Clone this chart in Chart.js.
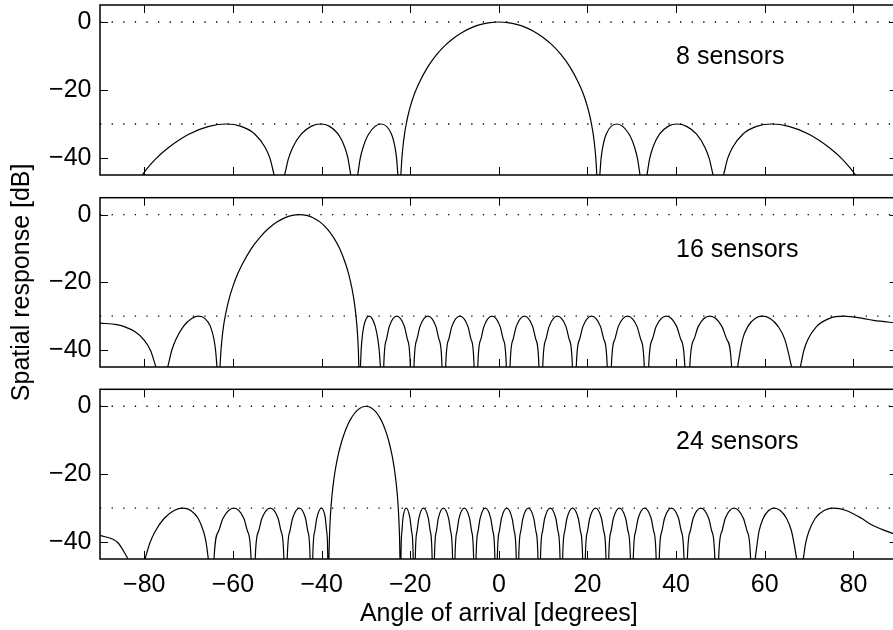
<!DOCTYPE html>
<html>
<head>
<meta charset="utf-8">
<script src="https://cdn.jsdelivr.net/npm/chart.js@4.4.1/dist/chart.umd.min.js"></script>
<style>
html,body{margin:0;padding:0;background:#fff;overflow:hidden;width:893px;height:630px;}
canvas{position:absolute;left:0;}
</style>
</head>
<body>
<canvas id="c8" style="top:0px"></canvas>
<canvas id="c16" style="top:60px"></canvas>
<canvas id="c24" style="top:380px"></canvas>
<script>
// ---------- data ----------
const xTicks = [-80, -60, -40, -20, 0, 20, 40, 60, 80];
const yTicks = [0, -20, -40];
const refLevels = [0, -30];
const xTitle = 'Angle of arrival [degrees]';
const yTitle = 'Spatial response [dB]';
const panelLabels = ['8 sensors', '16 sensors', '24 sensors'];
const labelPos = [40, -10];
// -100 marks a deep null (below the visible range)

const angles8 = [
-90, -83.70, -80.47, -77.37, -74.52, -69.97, -65.42, -61.56, -58.14, -55.04, -52.73, -51.62, -50.70, -50.02,
-49.50, -48.99, -48.34, -47.48, -46.51, -44.62, -42.37, -40.23, -38.19, -36.24, -34.75, -34.03, -33.42, -32.98,
-32.63, -32.29, -31.86, -31.29, -30.64, -29.40, -26.57, -24.22, -23.43, -23.07, -22.78, -22.58,
-22.43, -22.28, -22.11, -21.89, -21.66, -21.29, -20.90, -20.50, -20, -19, -18, -16, -14, -12, -10, -8, -6, -4, -2,
0,
2, 4, 6, 8, 10, 12, 14, 16, 18, 19, 20, 20.50, 20.90, 21.29, 21.66, 21.89, 22.11, 22.28, 22.43,
22.58, 22.78, 23.07, 23.43, 24.22, 26.57, 29.40, 30.64, 31.29, 31.86, 32.29, 32.63,
32.98, 33.42, 34.03, 34.75, 36.24, 38.19, 40.23, 42.37, 44.62, 46.51, 47.48, 48.34, 48.99, 49.50,
50.02, 50.70, 51.62, 52.73, 55.04, 58.14, 61.56, 65.42, 69.97, 74.52, 77.37, 80.47, 83.70, 90];
const resp8 = [
-100, -52.1, -45, -40.2, -36.9, -33, -30.7, -30, -30.7, -33, -36.9, -40.2, -45, -52.1,
-100, -52.1, -45, -40.2, -36.9, -33, -30.7, -30, -30.7, -33, -36.9, -40.2, -45, -52.1,
-100, -52.1, -45, -40.2, -36.9, -33, -30, -33, -36.9, -40.2, -45, -52.1,
-100, -52.1, -45, -40.2, -36.9, -33, -30, -27.5, -24.95, -20.98, -17.92, -13.11, -9.52, -6.73, -4.54, -2.85, -1.58, -0.69, -0.17,
0,
-0.17, -0.69, -1.58, -2.85, -4.54, -6.73, -9.52, -13.11, -17.92, -20.98, -24.95, -27.5, -30, -33, -36.9, -40.2, -45, -52.1, -100,
-52.1, -45, -40.2, -36.9, -33, -30, -33, -36.9, -40.2, -45, -52.1, -100,
-52.1, -45, -40.2, -36.9, -33, -30.7, -30, -30.7, -33, -36.9, -40.2, -45, -52.1, -100,
-52.1, -45, -40.2, -36.9, -33, -30.7, -30, -30.7, -33, -36.9, -40.2, -45, -52.1, -100];

const angles16 = [
-90, -86.27, -84.67, -82.07, -80.15, -78.57, -77.38, -76.57, -75.97,
-75.40, -74.71, -73.83, -72.88, -71.17, -69.30, -67.69, -66.29, -65.09, -64.27, -63.91, -63.60, -63.40, -63.25,
-63.10, -62.93, -62.71, -62.49, -62.13, -61.75, -61.28, -60.70, -60.12, -59.00, -57.90, -55.82, -53.81, -51.92, -50.09, -48.34, -46.64, -45,
-43.40, -41.84, -40.32, -38.84, -37.38, -35.95, -34.55, -33.86, -33.17, -32.83, -32.49, -32.23, -32.02, -31.82, -31.70, -31.59, -31.49, -31.41,
-31.34, -31.23, -31.08, -30.89, -30.48, -29.91, -29.28, -28.60, -27.89, -27.29, -26.99, -26.72, -26.52, -26.36,
-25.98, -25.37, -24.71, -23.06, -21.32, -20.62, -19.97, -19.57,
-19.16, -18.50, -17.79, -16.00, -14.21, -13.49, -12.82, -12.41,
-12.00, -11.32, -10.60, -8.79, -6.98, -6.26, -5.58, -5.17,
-4.76, -4.08, -3.36, -1.54, 0.28, 1.01, 1.69, 2.10,
2.52, 3.20, 3.94, 5.77, 7.62, 8.36, 9.05, 9.47,
9.90, 10.60, 11.35, 13.22, 15.13, 15.89, 16.60, 17.03,
17.47, 18.20, 18.98, 20.92, 22.92, 23.71, 24.46, 24.91,
25.38, 26.15, 26.97, 29.03, 31.17, 32.03, 32.82, 33.31,
33.80, 34.62, 35.51, 37.78, 40.11, 41.07, 41.97, 42.53,
43.08, 44.01, 45.01, 47.62, 50.32, 51.45, 52.52, 53.19,
53.48, 53.86, 54.97, 56.21, 57.81, 59.49, 61.20, 63.01, 64.55, 66.06, 66.60, 67.04,
67.47, 68.03, 68.80, 69.73, 71.71, 74.49, 77.80, 82.31, 84.55, 90];
const resp16 = [
-32.03, -32.48, -33, -34.62, -36.9, -40.2, -45, -52.1, -100,
-52.1, -45, -40.2, -36.9, -33, -30.7, -30, -30.7, -33, -36.9, -40.2, -45, -52.1, -100,
-52.1, -45, -40.2, -36.9, -33, -30, -27.11, -24.09, -21.62, -17.70, -14.64, -9.95, -6.55, -4.04, -2.21, -0.97, -0.24, 0,
-0.24, -0.97, -2.21, -4.04, -6.55, -9.95, -14.64, -17.70, -21.62, -24.09, -27.11, -30, -33, -36.9, -40.2, -45, -52.1, -100,
-52.1, -45, -40.2, -36.9, -33, -30.7, -30, -30.7, -33, -36.9, -40.2, -45, -52.1, -100,
-45, -36.9, -33, -30, -33, -36.9, -45, -100,
-45, -36.9, -33, -30, -33, -36.9, -45, -100,
-45, -36.9, -33, -30, -33, -36.9, -45, -100,
-45, -36.9, -33, -30, -33, -36.9, -45, -100,
-45, -36.9, -33, -30, -33, -36.9, -45, -100,
-45, -36.9, -33, -30, -33, -36.9, -45, -100,
-45, -36.9, -33, -30, -33, -36.9, -45, -100,
-45, -36.9, -33, -30, -33, -36.9, -45, -100,
-45, -36.9, -33, -30, -33, -36.9, -45, -100,
-45, -36.9, -33, -30, -33, -36.9, -45, -100,
-52.1, -45, -36.9, -33, -30.7, -30, -30.7, -33, -36.9, -45, -52.1, -100,
-52.1, -45, -40.2, -36.9, -33, -30.7, -30, -30.7, -31.25, -32.03];

const angles24 = [
-90, -85.95, -83.66, -82.39, -81.53,
-80.75, -79.84, -78.73, -77.56, -75.50, -73.27, -71.30, -69.52, -67.87, -66.64, -66.05, -65.55, -65.18, -64.90,
-64.27, -63.27, -62.24, -59.80, -57.55, -56.69, -55.91, -55.44,
-54.98, -54.24, -53.46, -51.58, -49.82, -49.13, -48.50, -48.12,
-47.75, -47.17, -46.54, -45.01, -43.63, -43.09, -42.59, -42.28,
-42.00, -41.55, -41.09, -40.03, -39.15, -38.85, -38.60, -38.47,
-38.41, -38.35, -38.26, -38.18, -38.04, -37.89, -37.73, -37.59, -37.23, -36.87, -36.51, -36.16, -35.45, -34.75, -34.06, -33.37, -32.68, -32.01, -31.33, -30.66, -30,
-29.34, -28.69, -28.03, -27.39, -26.74, -26.10, -25.47, -24.83, -24.20, -23.89, -23.58, -23.27, -22.95, -22.83, -22.70, -22.57, -22.45, -22.38, -22.31, -22.25, -22.20,
-22.09, -21.88, -21.64, -20.90, -20.05, -19.68, -19.32, -19.10,
-18.86, -18.48, -18.06, -17.02, -15.91, -15.47, -15.05, -14.80,
-14.54, -14.11, -13.66, -12.51, -11.34, -10.87, -10.44, -10.17,
-9.90, -9.46, -8.99, -7.80, -6.61, -6.13, -5.69, -5.42,
-5.15, -4.70, -4.23, -3.03, -1.83, -1.34, -0.89, -0.62,
-0.35, 0.10, 0.59, 1.79, 2.99, 3.48, 3.93, 4.20,
4.48, 4.94, 5.43, 6.65, 7.88, 8.37, 8.83, 9.11,
9.39, 9.85, 10.35, 11.59, 12.85, 13.35, 13.81, 14.10,
14.39, 14.86, 15.37, 16.63, 17.92, 18.43, 18.91, 19.20,
19.50, 19.99, 20.51, 21.82, 23.15, 23.68, 24.18, 24.48,
24.79, 25.30, 25.85, 27.21, 28.61, 29.16, 29.68, 30.00,
30.33, 30.86, 31.44, 32.87, 34.36, 34.95, 35.50, 35.84,
36.19, 36.77, 37.39, 38.93, 40.54, 41.18, 41.78, 42.15,
42.54, 43.17, 43.85, 45.54, 47.35, 48.07, 48.74, 49.15,
49.59, 50.32, 51.10, 53.04, 55.18, 56.04, 56.81, 57.32,
57.54, 57.84, 58.70, 59.65, 60.87, 62.15, 63.49, 64.89, 66.06, 67.21, 67.61, 67.93,
68.26, 68.68, 69.25, 69.95, 71.40, 73.39, 75.65, 78.33, 81.83, 84.21, 90];
const resp24 = [
-38.04, -40.2, -45, -52.1, -100,
-52.1, -45, -40.2, -36.9, -33, -30.7, -30, -30.7, -33, -36.9, -40.2, -45, -52.1, -100,
-45, -36.9, -33, -30, -33, -36.9, -45, -100,
-45, -36.9, -33, -30, -33, -36.9, -45, -100,
-45, -36.9, -33, -30, -33, -36.9, -45, -100,
-45, -36.9, -33, -30, -33, -36.9, -45, -100,
-52.1, -45, -40.2, -36.9, -33, -30, -27.46, -25.49, -21.55, -18.49, -15.96, -13.83, -10.31, -7.56, -5.37, -3.64, -2.28, -1.27, -0.56, -0.14, 0,
-0.14, -0.56, -1.27, -2.28, -3.64, -5.37, -7.56, -10.31, -13.83, -15.96, -18.49, -21.55, -25.49, -27.46, -30, -33, -36.9, -40.2, -45, -52.1, -100,
-45, -36.9, -33, -30, -33, -36.9, -45, -100,
-45, -36.9, -33, -30, -33, -36.9, -45, -100,
-45, -36.9, -33, -30, -33, -36.9, -45, -100,
-45, -36.9, -33, -30, -33, -36.9, -45, -100,
-45, -36.9, -33, -30, -33, -36.9, -45, -100,
-45, -36.9, -33, -30, -33, -36.9, -45, -100,
-45, -36.9, -33, -30, -33, -36.9, -45, -100,
-45, -36.9, -33, -30, -33, -36.9, -45, -100,
-45, -36.9, -33, -30, -33, -36.9, -45, -100,
-45, -36.9, -33, -30, -33, -36.9, -45, -100,
-45, -36.9, -33, -30, -33, -36.9, -45, -100,
-45, -36.9, -33, -30, -33, -36.9, -45, -100,
-45, -36.9, -33, -30, -33, -36.9, -45, -100,
-45, -36.9, -33, -30, -33, -36.9, -45, -100,
-45, -36.9, -33, -30, -33, -36.9, -45, -100,
-52.1, -45, -36.9, -33, -30.7, -30, -30.7, -33, -36.9, -45, -52.1, -100,
-52.1, -45, -40.2, -36.9, -33, -30.7, -30, -30.7, -33, -35.0, -38.04];

// ---------- drawing ----------
const FONT = {family: "'Liberation Sans', Arial, Helvetica, sans-serif", size: 25, lineHeight: 1.2};
const fmt = v => (v < 0 ? '\u2212' + Math.abs(v) : String(v));
const noPad = s => { s.paddingTop = 0; s.paddingBottom = 0; s.paddingLeft = 0; s.paddingRight = 0; };

const framePlugin = {
  id: 'frame',
  afterDatasetsDraw(chart, args, opts) {
    const {ctx, chartArea: a, scales: {x, y}} = chart;
    ctx.save();
    ctx.strokeStyle = '#000';
    ctx.lineWidth = 1;
    ctx.beginPath();
    xTicks.forEach(v => {
      const p = Math.round(x.getPixelForValue(v)) + 0.5;
      ctx.moveTo(p, a.top); ctx.lineTo(p, a.top + 8);
      ctx.moveTo(p, a.bottom); ctx.lineTo(p, a.bottom - 8);
    });
    yTicks.forEach(v => {
      const p = Math.round(y.getPixelForValue(v)) + 0.5;
      ctx.moveTo(a.left, p); ctx.lineTo(a.left + 8, p);
      ctx.moveTo(a.right, p); ctx.lineTo(a.right - 8, p);
    });
    ctx.stroke();
    ctx.lineWidth = 1.5;
    ctx.strokeRect(a.left, a.top, a.right - a.left, a.bottom - a.top);
    ctx.fillStyle = '#000';
    ctx.font = FONT.size + 'px ' + FONT.family;
    ctx.textAlign = 'left';
    ctx.textBaseline = 'middle';
    ctx.fillText(opts.label, x.getPixelForValue(labelPos[0]), y.getPixelForValue(labelPos[1]) + 1.5);
    ctx.restore();
  }
};

function makeChart(id, h, pad, angles, resp, label, showX, showYTitle) {
  const cv = document.getElementById(id);
  cv.width = 900; cv.height = h;
  const datasets = [{
    data: angles.map((a, i) => ({x: a, y: resp[i]})),
    borderColor: '#000', borderWidth: 1.2, pointRadius: 0,
    cubicInterpolationMode: 'monotone', fill: false
  }].concat(refLevels.map(v => ({
    data: [{x: -90, y: v}, {x: 90, y: v}],
    borderColor: '#000', borderWidth: 1.3, borderDash: [1.3, 10.3],
    pointRadius: 0, fill: false
  })));
  return new Chart(cv, {
    type: 'line',
    data: {datasets},
    plugins: [framePlugin],
    options: {
      responsive: false, animation: false, events: [],
      layout: {padding: pad},
      plugins: {legend: {display: false}, tooltip: {enabled: false}, frame: {label}},
      scales: {
        x: {
          type: 'linear', min: -90, max: 90, display: showX,
          afterBuildTicks: s => { s.ticks = xTicks.map(v => ({value: v})); },
          afterFit: s => { s.height = showX ? 71 : 0; noPad(s); },
          ticks: {display: showX, padding: 11, font: FONT, color: '#000', callback: fmt, maxRotation: 0, autoSkip: false},
          grid: {display: false, drawTicks: false}, border: {display: false},
          title: {display: showX, text: xTitle, font: FONT, color: '#000', padding: {top: 0, bottom: 0.5}}
        },
        y: {
          type: 'linear', min: -45, max: 5,
          afterBuildTicks: s => { s.ticks = yTicks.map(v => ({value: v})); },
          afterFit: s => { s.width = 100; noPad(s); },
          ticks: {padding: 8.5, font: FONT, color: '#000', callback: fmt},
          grid: {display: false, drawTicks: false}, border: {display: false},
          title: {display: showYTitle, text: yTitle, font: FONT, color: '#000', padding: {top: 7, bottom: 0}}
        }
      }
    }
  });
}

makeChart('c8', 185, {top: 5, bottom: 10, left: 0, right: 2.3}, angles8, resp8, panelLabels[0], false, false);
makeChart('c16', 450, {top: 137.7, bottom: 143, left: 0, right: 2.3}, angles16, resp16, panelLabels[1], false, true);
makeChart('c24', 250, {top: 9.3, bottom: 0, left: 0, right: 2.3}, angles24, resp24, panelLabels[2], true, false);
</script>
</body>
</html>
